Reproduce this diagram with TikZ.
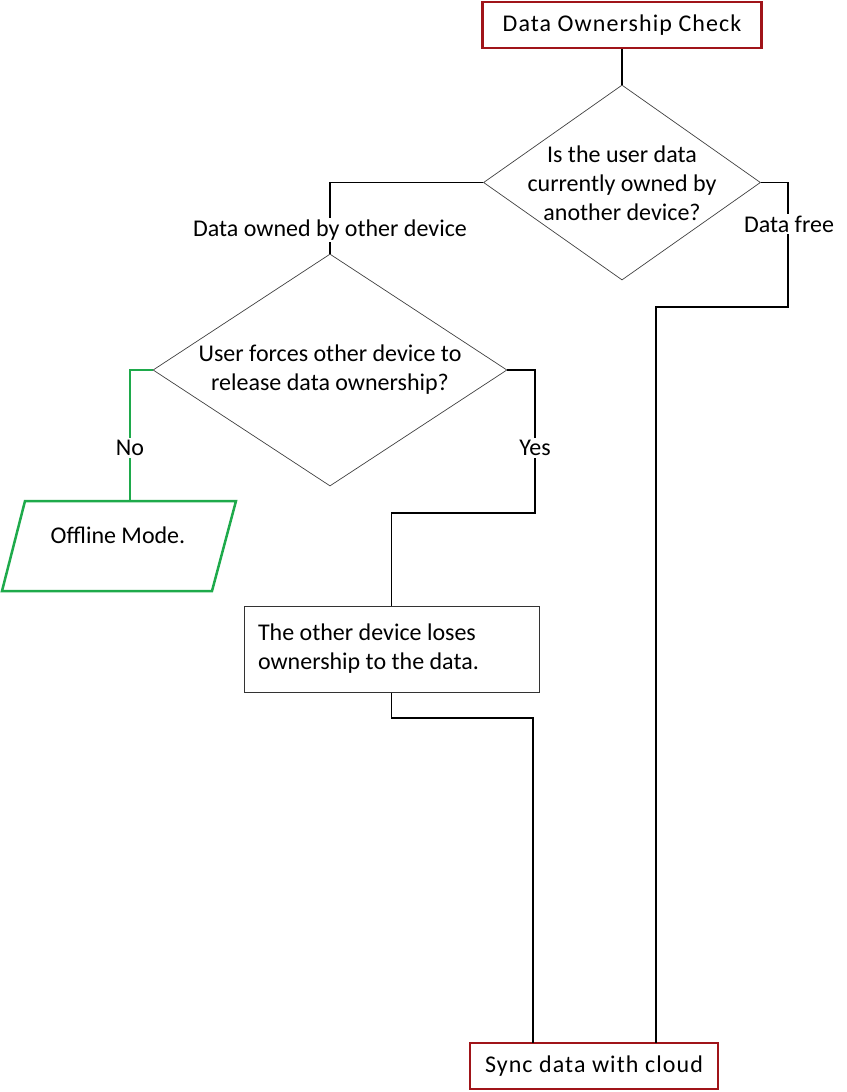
\documentclass[tikz,border=0pt]{standalone}
\usepackage{fontspec}
\setmainfont{Carlito}
\newfontfamily\spacedfont[LetterSpace=4.5]{Carlito}
\usetikzlibrary{shapes.geometric,calc}
\definecolor{boxred}{RGB}{160,20,25}
\definecolor{flowgreen}{RGB}{30,170,75}
\begin{document}
\begin{tikzpicture}[x=1pt,y=-1pt,
  every node/.style={font=\fontsize{24}{29}\selectfont},
  term/.style={draw=boxred,line width=2.6pt,rectangle,inner sep=0pt,minimum height=46pt,font=\fontsize{24}{29}\spacedfont},
  decision/.style={draw=black!75,line width=0.7pt,diamond,inner sep=0pt},
  procbox/.style={draw=black!80,line width=1pt,rectangle,inner xsep=14pt,inner ysep=4pt,align=flush left},
  ioshape/.style={draw=flowgreen,line width=2.5pt,line join=miter},
  conn/.style={line width=1.3pt,black},
  gconn/.style={line width=2.5pt,flowgreen},
  lbl/.style={fill=white,inner sep=2pt}
]
\useasboundingbox (0,0) rectangle (846,1092);

% nodes
\node[term,minimum width=279pt] (start) at (622,25) {Data Ownership Check};
\node[decision,minimum width=277pt,minimum height=195pt] (d1) at (622,182.5) {};
\node[align=center] (d1t) at (622,183.5) {Is the user data\\currently owned by\\another device?};
\node[decision,minimum width=354pt,minimum height=232pt] (d2) at (330,370) {};
\node[align=center] (d2t) at (330,370) {User forces other device to\\release data ownership?};
\draw[ioshape] (25,501) -- (236,501) -- (212,591) -- (2,591) -- cycle;
\coordinate (offtop) at (130,501);
\node (off) at (118,535) {Offline Mode.};
\node[procbox,minimum height=86pt,text width=267pt] (proc) at (391.5,649) {The other device loses\\ownership to the data.};
\node[term,minimum width=248pt] (sync) at (594,1066) {Sync data with cloud};

% helper coordinates
\coordinate (r1) at (788,307);
\coordinate (s1) at (533,1043);
\coordinate (s2) at (656,1043);
\coordinate (y1) at (535,513);
\coordinate (j2) at (533,718);

% connectors
\draw[conn] (start.south) -- (d1.north);
\draw[conn] (d1.west) -| (d2.north);
\draw[conn] (d1.east) -| (r1) -| (s2);
\draw[gconn] (d2.west) -| (offtop);
\draw[conn] (d2.east) -| (y1) -| (proc.north);
\draw[conn] (proc.south) |- (j2) -- (s1);

% labels
\node[lbl] (l1) at (330,230) {Data owned by other device};
\node[lbl] (l2) at (789,224) {Data free};
\node[lbl] (l3) at (130,448) {No};
\node[lbl] (l4) at (535,448) {Yes};
\end{tikzpicture}
\end{document}
